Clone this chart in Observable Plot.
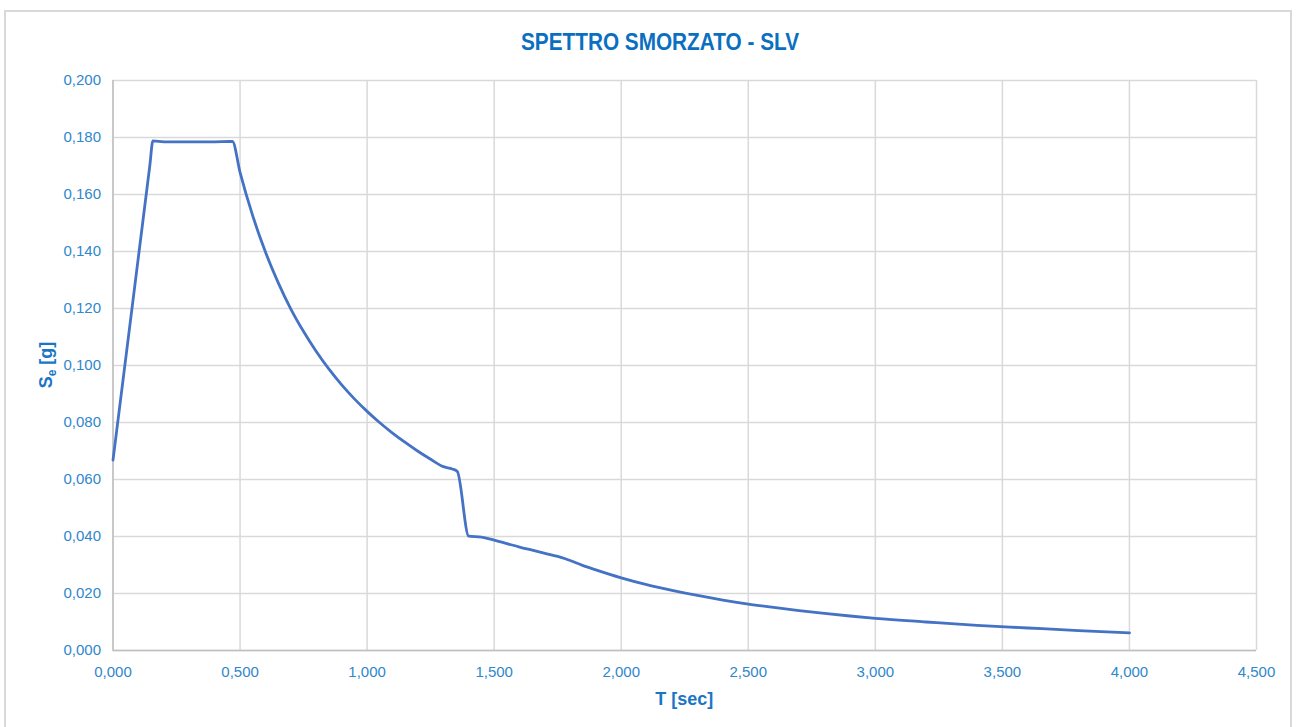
<!DOCTYPE html>
<html>
<head>
<meta charset="utf-8">
<script src="https://cdn.jsdelivr.net/npm/d3@7"></script>
<script src="https://cdn.jsdelivr.net/npm/@observablehq/plot@0.6"></script>
<style>
  html, body { margin: 0; padding: 0; background: #fff; }
  #wrap { position: relative; width: 1297px; height: 727px; overflow: hidden; }
  #frame { position: absolute; left: 4px; top: 10px; width: 1288px; height: 740px; border: 2px solid #d9d9d9; box-sizing: border-box; }
  #chart { position: absolute; left: 0; top: 0; }
</style>
</head>
<body>
<div id="wrap"><div id="frame"></div><div id="chart"></div></div>
<script>
const title = "SPETTRO SMORZATO - SLV";
const xLabel = "T [sec]";
const yLabelMain = "S";
const yLabelSub = "e";
const yLabelTail = " [g]";

const periods = [0.000, 0.050, 0.100, 0.145, 0.157, 0.170, 0.200, 0.300, 0.400, 0.460, 0.470, 0.500, 0.550, 0.600, 0.650, 0.700, 0.750, 0.800, 0.850, 0.900, 0.950,
  1.000, 1.050, 1.100, 1.150, 1.200, 1.250, 1.300, 1.335, 1.355, 1.400, 1.450, 1.500, 1.550, 1.600, 1.650, 1.700, 1.750, 1.780,
  1.850, 1.900, 2.000, 2.100, 2.200, 2.300, 2.400, 2.500, 2.600, 2.700, 2.800, 2.900, 3.000, 3.200, 3.400, 3.600, 3.800, 4.000];
const spectrum = [0.0668, 0.1024, 0.1381, 0.1702, 0.1788, 0.1787, 0.1785, 0.1785, 0.1785, 0.1786, 0.1786, 0.1678, 0.1525, 0.1398, 0.1291, 0.1198, 0.1119, 0.1049, 0.0987, 0.0932, 0.0883,
  0.0839, 0.0799, 0.0763, 0.0730, 0.0699, 0.0671, 0.0645, 0.0637, 0.0628, 0.0401, 0.0398, 0.0387, 0.0375, 0.0363, 0.0352, 0.0341, 0.0330, 0.0322,
  0.0298, 0.0283, 0.0255, 0.0231, 0.0211, 0.0193, 0.0177, 0.0163, 0.0151, 0.0140, 0.0130, 0.0121, 0.0113, 0.0100, 0.0088, 0.0079, 0.0070, 0.0062];
const xTicks = [0, 0.5, 1.0, 1.5, 2.0, 2.5, 3.0, 3.5, 4.0, 4.5];
const yTicks = [0, 0.02, 0.04, 0.06, 0.08, 0.10, 0.12, 0.14, 0.16, 0.18, 0.20];

const data = periods.map((T, i) => ({T, Se: spectrum[i]}));
const fmt = d => d3.format(".3f")(d).replace(".", ",");
const tickColor = "#2f87cc";
const labelColor = "#1a76c4";
const titleColor = "#0b6fc1";
const fontFam = "'Liberation Sans Narrow', 'Arial Narrow', 'Liberation Sans', Arial, sans-serif";

const W = 1297, H = 727;
const mL = 112.5, mR = 41, mT = 80, mB = 77;

const svg = Plot.plot({
  width: W, height: H,
  marginLeft: mL, marginRight: mR, marginTop: mT, marginBottom: mB,
  style: { background: "transparent", fontFamily: fontFam, fontSize: "15px", color: tickColor },
  x: { domain: [0, 4.5] },
  y: { domain: [0, 0.2] },
  marks: [
    Plot.gridY(yTicks, { stroke: "#d9d9d9", strokeOpacity: 1, strokeWidth: 1.5 }),
    Plot.gridX(xTicks, { stroke: "#d9d9d9", strokeOpacity: 1, strokeWidth: 1.5 }),
    Plot.ruleX([0], { stroke: "#bfbfbf", strokeWidth: 1.5 }),
    Plot.ruleY([0], { stroke: "#bfbfbf", strokeWidth: 1.5 }),
    Plot.line(data, { x: "T", y: "Se", stroke: "#4472c4", strokeWidth: 2.8, curve: "monotone-x" }),
    Plot.axisX(xTicks, { tickSize: 0, tickPadding: 16, tickFormat: fmt, label: null, fill: tickColor }),
    Plot.axisY(yTicks, { tickSize: 0, tickPadding: 12, tickFormat: fmt, label: null, fill: tickColor })
  ]
});

const s = d3.select(svg);
s.append("text")
  .attr("x", 660).attr("y", 50)
  .attr("text-anchor", "middle")
  .attr("fill", titleColor)
  .attr("font-weight", "bold")
  .attr("font-size", 24)
  .attr("textLength", 278).attr("lengthAdjust", "spacingAndGlyphs")
  .text(title);

s.append("text")
  .attr("x", (mL + W - mR) / 2).attr("y", 705)
  .attr("text-anchor", "middle")
  .attr("fill", labelColor)
  .attr("font-weight", "bold")
  .attr("font-size", 18)
  .text(xLabel);

const yl = s.append("text")
  .attr("transform", `translate(52,${(mT + H - mB) / 2}) rotate(-90)`)
  .attr("text-anchor", "middle")
  .attr("fill", labelColor)
  .attr("font-weight", "bold")
  .attr("font-size", 18);
yl.append("tspan").text(yLabelMain);
yl.append("tspan").attr("font-size", 12).attr("dy", 4).text(yLabelSub);
yl.append("tspan").attr("dy", -4).text(yLabelTail);

document.getElementById("chart").appendChild(svg);
</script>
</body>
</html>
